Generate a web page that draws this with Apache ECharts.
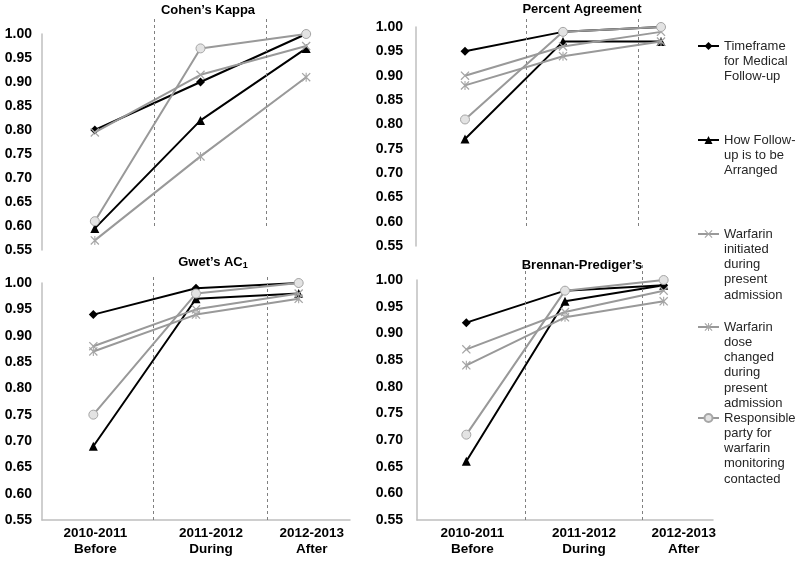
<!DOCTYPE html>
<html><head><meta charset="utf-8">
<script src="https://cdn.jsdelivr.net/npm/echarts@6/dist/echarts.min.js"></script>
<style>html,body{margin:0;padding:0;background:#fff}#c{width:800px;height:561px}</style>
</head><body><div id="c"></div>
<script>
// ---------- DATA ----------
const categories = ['2010-2011\nBefore', '2011-2012\nDuring', '2012-2013\nAfter'];
const seriesNames = [
  'Timeframe for Medical Follow-up',
  'How Follow-up is to be Arranged',
  'Warfarin initiated during present admission',
  'Warfarin dose changed during present admission',
  'Responsible party for warfarin monitoring contacted'
];
const legendLines = [
  ['Timeframe', 'for Medical', 'Follow-up'],
  ['How Follow-', 'up is to be', 'Arranged'],
  ['Warfarin', 'initiated', 'during', 'present', 'admission'],
  ['Warfarin', 'dose', 'changed', 'during', 'present', 'admission'],
  ['Responsible', 'party for', 'warfarin', 'monitoring', 'contacted']
];
const panelTitles = ['Cohen\u2019s Kappa', 'Percent Agreement', 'Gwet\u2019s AC{sub|1}', 'Brennan-Prediger\u2019s'];
// rows follow seriesNames order
const cohensKappa = [
  [0.80, 0.90, 1.00],
  [0.595, 0.82, 0.97],
  [0.795, 0.915, 0.975],
  [0.57, 0.745, 0.91],
  [0.61, 0.97, 1.00]
];
const percentAgreement = [
  [0.95, 0.99, 1.00],
  [0.77, 0.97, 0.97],
  [0.90, 0.96, 0.99],
  [0.88, 0.94, 0.97],
  [0.81, 0.99, 1.00]
];
const gwetsAC1 = [
  [0.94, 0.99, 1.00],
  [0.69, 0.97, 0.98],
  [0.88, 0.95, 0.98],
  [0.87, 0.94, 0.97],
  [0.75, 0.98, 1.00]
];
const brennanPrediger = [
  [0.92, 0.98, 0.99],
  [0.66, 0.96, 0.99],
  [0.87, 0.94, 0.98],
  [0.84, 0.93, 0.96],
  [0.71, 0.98, 1.00]
];
const yMin = 0.55, yMax = 1.00, yStep = 0.05;
const panelData = [cohensKappa, percentAgreement, gwetsAC1, brennanPrediger];

// ---------- LAYOUT / STYLE ----------
const FONT = "'Liberation Sans', Arial, Helvetica, sans-serif";
const grids = [
  {left: 42, top: 34, width: 317, height: 216},
  {left: 416, top: 27, width: 294, height: 219},
  {left: 42, top: 283, width: 308, height: 237},
  {left: 417, top: 280, width: 296, height: 240}
];
const dividerGrids = [
  {left: 42, top: 17, width: 317, height: 209},
  {left: 416, top: 17, width: 294, height: 209},
  {left: 42, top: 275, width: 308, height: 245},
  {left: 417, top: 262, width: 296, height: 258}
];
// divider positions in band units (0..3)
const dividerPos = [[1.06, 2.12], [1.12, 2.27], [1.08, 2.19], [1.10, 2.28]];
const yLabelMargin = [10, 13, 10, 14];
const xLabelShift = [null, null, [2, 15, 13], [6, 19, 20]];
const titlePos = [[208, 10], [582, 9], [213, 262], [582, 265]];
const legendCenters = [46, 140, 234, 327, 418];
const LH = 15.3;

const XPATH = 'path://M1,0L5,4L9,0L10,1L6,5L10,9L9,10L5,6L1,10L0,9L4,5L0,1Z';
const STARPATH = 'path://M1,0L5,4L9,0L10,1L6,5L10,9L9,10L5,6L1,10L0,9L4,5L0,1ZM4.4,0L5.6,0L5.6,10L4.4,10Z';
const seriesStyle = [
  {line: '#000000', symbol: 'diamond', size: 9, item: {color: '#000000'}},
  {line: '#000000', symbol: 'triangle', size: 9, item: {color: '#000000'}},
  {line: '#999999', symbol: XPATH, size: 9, item: {color: '#a6a6a6'}},
  {line: '#999999', symbol: STARPATH, size: 9, item: {color: '#a6a6a6'}},
  {line: '#999999', symbol: 'circle', size: 9, item: {color: '#e3e3e3', borderColor: '#a6a6a6', borderWidth: 1}}
];

const gridOpt = [], xAxis = [], yAxis = [], series = [];
grids.forEach((g, p) => {
  gridOpt.push(Object.assign({outerBoundsMode: 'none', containLabel: false}, g));
  const bottom = p >= 2;
  const rich = {};
  if (bottom) {
    xLabelShift[p].forEach((dx, i) => {
      rich['c' + i] = {fontSize: 13.5, fontWeight: 'bold', fontFamily: FONT, color: '#000', lineHeight: 16, padding: [0, 0, 0, 2 * dx]};
    });
  }
  xAxis.push({
    type: 'category', gridIndex: p, data: categories, boundaryGap: true,
    axisLine: {show: bottom, lineStyle: {color: '#bfbfbf', width: 1.5}},
    axisTick: {show: false}, splitLine: {show: false},
    axisLabel: {
      show: bottom, interval: 0, margin: 5,
      formatter: (v, i) => v.split('\n').map(s => '{c' + i + '|' + s + '}').join('\n'),
      rich: rich
    }
  });
  yAxis.push({
    type: 'value', gridIndex: p, min: yMin, max: yMax, interval: yStep,
    axisLine: {show: true, lineStyle: {color: '#bfbfbf', width: 1.5}},
    axisTick: {show: false}, splitLine: {show: false},
    axisLabel: {margin: yLabelMargin[p], fontSize: 14, fontWeight: 'bold', color: '#000', fontFamily: FONT,
      formatter: v => v.toFixed(2)}
  });
  panelData[p].forEach((vals, s) => {
    const st = seriesStyle[s];
    series.push({
      type: 'line', name: seriesNames[s], xAxisIndex: p, yAxisIndex: p,
      data: vals, symbol: st.symbol, symbolSize: st.size, showAllSymbol: true,
      lineStyle: {color: st.line, width: 2}, itemStyle: st.item,
      emphasis: {disabled: true}, animation: false, z: 2 + s
    });
  });
});
dividerGrids.forEach((g, p) => {
  const gi = 4 + p;
  gridOpt.push(Object.assign({outerBoundsMode: 'none', containLabel: false}, g));
  xAxis.push({type: 'value', gridIndex: gi, min: 0, max: 3, show: false});
  yAxis.push({type: 'value', gridIndex: gi, min: 0, max: 1, show: false});
  series.push({
    type: 'line', xAxisIndex: gi, yAxisIndex: gi, data: [], silent: true, animation: false, z: 1,
    markLine: {
      silent: true, symbol: 'none', animation: false, label: {show: false},
      lineStyle: {type: [3, 3], color: '#808080', width: 1},
      emphasis: {disabled: true},
      data: dividerPos[p].map(x => ({xAxis: x}))
    }
  });
});

// Legend text is centred on its icon, so blank lines are put above the real lines
// to keep the first real line level with the icon.
const legends = seriesNames.map((name, i) => {
  const n = legendLines[i].length;
  const blanks = new Array(n - 1).fill(' ');
  return {
    data: [name], left: 697, top: legendCenters[i] - (2 * n - 1) * LH / 2,
    orient: 'vertical', padding: 0, itemWidth: 21, itemHeight: 10, itemGap: 0,
    selectedMode: false,
    formatter: () => blanks.concat(legendLines[i]).join('\n'),
    textStyle: {fontSize: 13, fontFamily: FONT, color: '#262626', lineHeight: LH}
  };
});

const graphics = panelTitles.map((t, p) => ({
  type: 'text', x: titlePos[p][0], y: titlePos[p][1], silent: true,
  style: {
    text: t, align: 'center', verticalAlign: 'middle',
    fontSize: 13, fontWeight: 'bold', fontFamily: FONT, fill: '#000',
    rich: {sub: {fontSize: 9, fontWeight: 'bold', fontFamily: FONT, fill: '#000', padding: [8, 0, 0, 0]}}
  }
}));

const chart = echarts.init(document.getElementById('c'), null, {renderer: 'canvas'});
chart.setOption({
  backgroundColor: '#ffffff',
  animation: false,
  textStyle: {fontFamily: FONT},
  grid: gridOpt, xAxis: xAxis, yAxis: yAxis,
  legend: legends,
  graphic: graphics,
  series: series
});
</script>
</body></html>
